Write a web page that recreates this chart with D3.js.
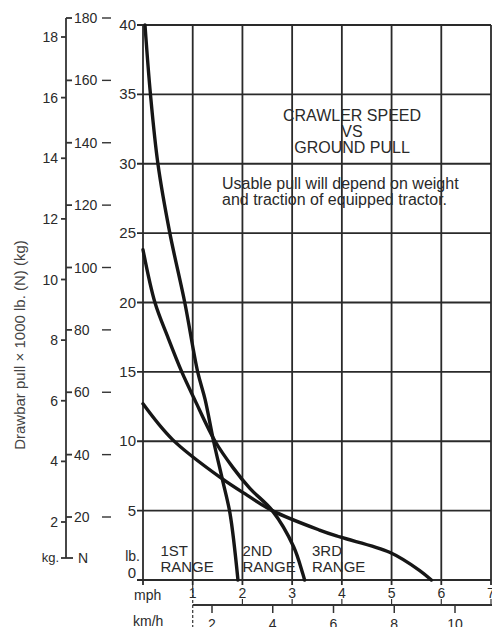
<!DOCTYPE html>
<html>
<head>
    <meta charset="UTF-8">
    <style>
        body { margin: 0; background: #fff; }
        svg { display: block; }
        text { font-family: "Liberation Sans", Arial, sans-serif; fill: #2a2a2a; }
        .grid line { stroke: #2a2a2a; stroke-width: 1.8; }
        .curve { fill: none; stroke: #161616; stroke-width: 3.4; stroke-linecap: round; }
        .outer line { stroke: #333; stroke-width: 1.8; }
    </style>
</head>
<body>
<script src="https://cdn.jsdelivr.net/npm/d3@7"></script>
<script>
// values (mph, lb x 1000)
var range1 = [[0.04,40],[0.15,35],[0.3,30],[0.54,25],[0.84,20],[1.1,15],[1.25,13],[1.42,10],[1.6,7.2],[1.75,4.8],[1.91,0]];
var range2 = [[0,23.8],[0.24,20],[0.5,17.5],[0.78,15],[1.04,13],[1.45,10],[1.81,8.1],[2.15,6.6],[2.6,5.0],[3.03,2.4],[3.21,0.5],[3.25,0]];
var range3 = [[0,12.7],[0.6,10.1],[1.59,7.3],[2.1,6.1],[2.6,5.0],[3.55,3.6],[3.96,3.1],[4.96,2.0],[5.56,0.7],[5.8,0]];
var rangeNames = ["1ST", "2ND", "3RD"];
var rangeLabelAt = [0.35, 2.0, 3.4];   // mph where label starts

var lbTicks = [0, 5, 10, 15, 20, 25, 30, 35, 40];
var mphTicks = [1, 2, 3, 4, 5, 6, 7];
var kmhTicks = [2, 4, 6, 8, 10];
var kgTicks = [2, 4, 6, 8, 10, 12, 14, 16, 18];
var nTicks = [20, 40, 60, 80, 100, 120, 140, 160, 180];

var title = ["CRAWLER SPEED", "VS", "GROUND PULL"];
var note = ["Usable pull will depend on weight", "and traction of equipped tractor."];

var width = 492, height = 627;
var svg = d3.select("body").append("svg").attr("width", width).attr("height", height);

var x = d3.scaleLinear().domain([0, 7]).range([143, 491]);
var y = d3.scaleLinear().domain([0, 40]).range([580, 25]);
// km/h scale printed slightly offset from the mph one
var xk = d3.scaleLinear().domain([2, 10]).range([212, 455]);
// outer scales
var yKg = d3.scaleLinear().domain([2, 18]).range([522, 37]);
var yN = d3.scaleLinear().domain([20, 180]).range([517, 18]);

// grid
var grid = svg.append("g").attr("class", "grid");
grid.selectAll(".h").data(lbTicks).enter().append("line")
    .attr("x1", x(0) - 6).attr("x2", x(7))
    .attr("y1", function(d) { return y(d); }).attr("y2", function(d) { return y(d); });
grid.selectAll(".v").data([0].concat(mphTicks)).enter().append("line")
    .attr("x1", function(d) { return x(d); }).attr("x2", function(d) { return x(d); })
    .attr("y1", y(40)).attr("y2", y(0) + 5);

// lb labels
svg.selectAll(".lbl").data(lbTicks).enter().append("text")
    .attr("x", x(0) - 7).attr("y", function(d) { return d === 0 ? y(d) - 2 : y(d) + 5; })
    .attr("text-anchor", "end").style("font-size", "15px")
    .text(function(d) { return d; });
svg.append("text").attr("x", x(0) - 3).attr("y", y(0) - 19)
    .attr("text-anchor", "end").style("font-size", "14px").text("lb.");

// mph axis labels
svg.selectAll(".mphl").data(mphTicks).enter().append("text")
    .attr("x", function(d) { return x(d); }).attr("y", 598)
    .attr("text-anchor", "middle").style("font-size", "14px")
    .text(function(d) { return d; });
svg.append("text").attr("x", 134).attr("y", 600).style("font-size", "14px").text("mph");

// km/h axis
var kaxis = svg.append("g").attr("class", "outer");
kaxis.append("line").attr("x1", x(1)).attr("x2", width).attr("y1", 605).attr("y2", 605);
kaxis.append("line").attr("x1", x(1)).attr("x2", x(1)).attr("y1", 585).attr("y2", height)
    .style("stroke-dasharray", "3,2").style("stroke-width", 1.2);
kaxis.selectAll(".up").data(mphTicks.slice(1)).enter().append("line")
    .attr("x1", function(d) { return x(d); }).attr("x2", function(d) { return x(d); })
    .attr("y1", 599).attr("y2", 605).style("stroke-width", 1.2);
kaxis.selectAll(".kt").data(kmhTicks).enter().append("line")
    .attr("x1", function(d) { return xk(d); }).attr("x2", function(d) { return xk(d); })
    .attr("y1", 605).attr("y2", 613).style("stroke-width", 1.5);
svg.selectAll(".kl").data(kmhTicks).enter().append("text")
    .attr("x", function(d) { return xk(d); }).attr("y", 629)
    .attr("text-anchor", "middle").style("font-size", "14px")
    .text(function(d) { return d; });
svg.append("text").attr("x", 133).attr("y", 626).style("font-size", "14px").text("km/h");

// outer kg / N axis
var outer = svg.append("g").attr("class", "outer");
outer.append("line").attr("x1", 66).attr("x2", 66).attr("y1", 18).attr("y2", 558);
outer.selectAll(".kgt").data(kgTicks).enter().append("line")
    .attr("x1", 61).attr("x2", 66)
    .attr("y1", function(d) { return yKg(d); }).attr("y2", function(d) { return yKg(d); });
svg.selectAll(".kgl").data(kgTicks).enter().append("text")
    .attr("x", 58).attr("y", function(d) { return yKg(d) + 5; })
    .attr("text-anchor", "end").style("font-size", "14px")
    .text(function(d) { return d; });
outer.selectAll(".nt").data(nTicks).enter().append("line")
    .attr("x1", 66).attr("x2", 72)
    .attr("y1", function(d) { return yN(d); }).attr("y2", function(d) { return yN(d); });
outer.selectAll(".nd").data(nTicks).enter().append("line")
    .attr("x1", 102).attr("x2", 111)
    .attr("y1", function(d) { return yN(d); }).attr("y2", function(d) { return yN(d); })
    .style("stroke-width", 1.4);
svg.selectAll(".nl").data(nTicks).enter().append("text")
    .attr("x", 74).attr("y", function(d) { return yN(d) + 5; })
    .style("font-size", "14px")
    .text(function(d) { return d; });
outer.append("line").attr("x1", 61).attr("x2", 73).attr("y1", 558).attr("y2", 558);
svg.append("text").attr("x", 59).attr("y", 562).attr("text-anchor", "end")
    .style("font-size", "13px").text("kg.");
svg.append("text").attr("x", 78).attr("y", 563).style("font-size", "14px").text("N");

// y title
svg.append("text")
    .attr("transform", "translate(25,345) rotate(-90)")
    .attr("text-anchor", "middle").style("font-size", "15px").style("fill", "#444")
    .text("Drawbar pull \u00d7 1000 lb. (N) (kg)");

// curves
var line = d3.line()
    .x(function(d) { return x(d[0]); })
    .y(function(d) { return y(d[1]); })
    .curve(d3.curveCatmullRom.alpha(0.5));
svg.selectAll(".curve").data([range1, range2, range3]).enter().append("path")
    .attr("class", "curve").attr("d", line);

// range labels
rangeNames.forEach(function(n, i) {
    var t = svg.append("text").attr("x", x(rangeLabelAt[i])).attr("y", 556).style("font-size", "15px");
    t.append("tspan").text(n);
    t.append("tspan").attr("x", x(rangeLabelAt[i])).attr("dy", 16).text("RANGE");
});

// title and note
svg.selectAll(".title").data(title).enter().append("text")
    .attr("x", 352).attr("y", function(d, i) { return 121 + i * 16; })
    .attr("text-anchor", "middle").style("font-size", "16px")
    .text(function(d) { return d; });
svg.selectAll(".note").data(note).enter().append("text")
    .attr("x", 222).attr("y", function(d, i) { return 189 + i * 16; })
    .style("font-size", "16px")
    .text(function(d) { return d; });
</script>
</body>
</html>
